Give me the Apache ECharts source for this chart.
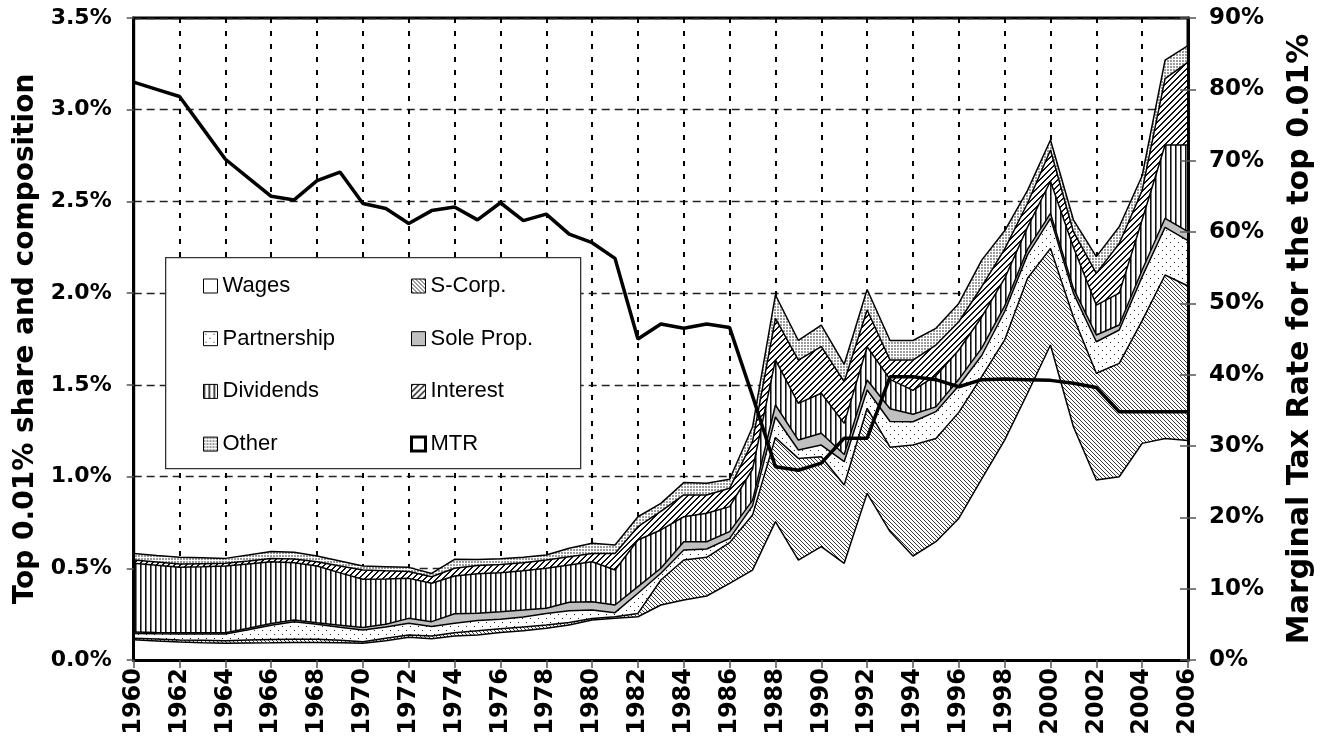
<!DOCTYPE html>
<html>
<head>
<meta charset="utf-8">
<script src="https://cdn.jsdelivr.net/npm/echarts@6/dist/echarts.min.js"></script>
<style>
html,body{margin:0;padding:0;background:#fff;}
#chart{width:1323px;height:746px;}
</style>
</head>
<body>
<div id="chart"></div>
<script>
// ---------- DATA ----------
const years = ['1960','1961','1962','1963','1964','1965','1966','1967','1968','1969',
  '1970','1971','1972','1973','1974','1975','1976','1977','1978','1979',
  '1980','1981','1982','1983','1984','1985','1986','1987','1988','1989',
  '1990','1991','1992','1993','1994','1995','1996','1997','1998','1999',
  '2000','2001','2002','2003','2004','2005','2006'];

// components of the top 0.01% income share (percent)
const wages = [0.110,0.104,0.098,0.094,0.091,0.093,0.094,0.096,0.096,0.094,
  0.091,0.105,0.124,0.116,0.131,0.136,0.150,0.160,0.173,0.191,
  0.218,0.227,0.236,0.300,0.327,0.349,0.418,0.490,0.754,0.545,
  0.618,0.527,0.909,0.700,0.567,0.645,0.772,0.987,1.199,1.454,
  1.717,1.272,0.981,0.999,1.181,1.208,1.196];
const sCorp = [0.008,0.010,0.011,0.013,0.014,0.016,0.018,0.017,0.017,0.013,
  0.009,0.013,0.012,0.015,0.018,0.024,0.020,0.020,0.018,0.014,
  0.008,0.009,0.018,0.136,0.218,0.211,0.222,0.300,0.459,0.554,
  0.490,0.427,0.463,0.460,0.605,0.563,0.578,0.558,0.546,0.627,
  0.527,0.598,0.582,0.618,0.669,0.891,0.843];
const partnership = [0.027,0.029,0.033,0.035,0.037,0.056,0.078,0.096,0.082,0.071,
  0.064,0.062,0.064,0.051,0.051,0.055,0.052,0.055,0.063,0.063,
  0.047,0.022,0.110,0.037,0.055,0.045,0.023,0.050,0.112,0.046,
  0.064,0.127,0.100,0.140,0.127,0.146,0.145,0.115,0.155,0.129,
  0.164,0.130,0.172,0.182,0.240,0.260,0.247];
const soleProp = [0.007,0.007,0.007,0.007,0.007,0.008,0.009,0.009,0.008,0.012,
  0.013,0.015,0.027,0.027,0.052,0.040,0.041,0.037,0.028,0.047,
  0.045,0.042,0.036,0.027,0.045,0.040,0.037,0.030,0.065,0.054,
  0.064,0.039,0.054,0.070,0.041,0.026,0.035,0.040,0.030,0.030,
  0.027,0.026,0.037,0.027,0.036,0.049,0.049];
const dividends = [0.376,0.366,0.357,0.359,0.363,0.351,0.337,0.312,0.309,0.285,
  0.263,0.247,0.218,0.209,0.206,0.215,0.212,0.215,0.218,0.203,
  0.218,0.191,0.254,0.209,0.136,0.155,0.136,0.170,0.246,0.200,
  0.218,0.170,0.182,0.160,0.130,0.170,0.160,0.170,0.150,0.120,
  0.175,0.224,0.163,0.174,0.274,0.400,0.473];
const interest = [0.017,0.018,0.017,0.017,0.015,0.016,0.018,0.020,0.024,0.037,
  0.051,0.044,0.037,0.036,0.042,0.045,0.045,0.043,0.045,0.045,
  0.045,0.090,0.073,0.101,0.119,0.100,0.100,0.150,0.227,0.236,
  0.254,0.227,0.200,0.105,0.165,0.167,0.154,0.165,0.160,0.130,
  0.170,0.085,0.173,0.271,0.160,0.362,0.452];
const other = [0.036,0.036,0.037,0.032,0.027,0.032,0.037,0.037,0.031,0.028,
  0.021,0.023,0.023,0.018,0.049,0.033,0.032,0.030,0.027,0.046,
  0.055,0.046,0.054,0.044,0.067,0.063,0.049,0.080,0.127,0.107,
  0.118,0.095,0.112,0.107,0.107,0.091,0.100,0.145,0.100,0.070,
  0.055,0.065,0.091,0.091,0.080,0.100,0.090];
// marginal tax rate for the top 0.01% (percent)
const mtr = [81.0,80.0,79.0,74.6,70.2,67.6,65.0,64.5,67.2,68.4,
  64.0,63.3,61.2,63.0,63.5,61.7,64.1,61.6,62.5,59.7,
  58.5,56.3,45.0,47.1,46.5,47.1,46.6,37.0,27.1,26.6,
  27.6,31.1,31.1,39.7,39.7,39.3,38.3,39.3,39.4,39.3,
  39.2,38.8,38.2,34.8,34.8,34.8,34.8];

const seriesNames = ['Wages','S-Corp.','Partnership','Sole Prop.','Dividends','Interest','Other'];
const seriesData = [wages, sCorp, partnership, soleProp, dividends, interest, other];
const leftTicks = {min:0, max:3.5, step:0.5};
const rightTicks = {min:0, max:90, step:10};

// ---------- PATTERNS ----------
function pattern(w, h, draw) {
  const c = document.createElement('canvas');
  c.width = w; c.height = h;
  const ctx = c.getContext('2d');
  ctx.fillStyle = '#fff'; ctx.fillRect(0, 0, w, h);
  draw(ctx, w, h);
  return {image: c, repeat: 'repeat'};
}
const fills = [
  '#ffffff',
  pattern(4, 4, (ctx) => { ctx.fillStyle = '#3a3a3a'; for (let i = 0; i < 4; i++) ctx.fillRect(i, i, 1, 1); }),
  pattern(8, 8, (ctx) => { ctx.fillStyle = '#222'; ctx.fillRect(2, 2, 1, 1); ctx.fillRect(6, 6, 1, 1); }),
  '#c0c0c0',
  pattern(5, 1, (ctx) => { ctx.fillStyle = '#111'; ctx.fillRect(0, 0, 1, 1); ctx.fillStyle = '#777'; ctx.fillRect(1, 0, 1, 1); }),
  pattern(6, 6, (ctx) => { ctx.fillStyle = '#111'; for (let x = 0; x < 6; x++) for (let y = 0; y < 6; y++) { const m = (x + y) % 6; if (m === 0 || m === 1) ctx.fillRect(x, y, 1, 1); } }),
  pattern(3, 3, (ctx) => { ctx.fillStyle = '#9a9a9a'; ctx.fillRect(0, 0, 2, 2); })
];

const FONT = "'Liberation Sans', Arial, sans-serif";
const TICKFONT = "'DejaVu Sans', sans-serif";

const series = seriesNames.map((n, i) => ({
  name: n, type: 'line', stack: 'share', data: seriesData[i],
  symbol: 'none', smooth: false, z: 2,
  lineStyle: {color: '#000', width: 1.5},
  itemStyle: {color: '#000'},
  areaStyle: {color: fills[i], opacity: 1},
  emphasis: {disabled: true},
  silent: true
}));
series.push({
  name: 'MTR', type: 'line', yAxisIndex: 1, data: mtr, symbol: 'none', z: 6,
  lineStyle: {color: '#000', width: 3.5}, itemStyle: {color: '#000'},
  emphasis: {disabled: true}, silent: true
});

function legendItem(n) {
  if (n === 'MTR') return {name: n, icon: 'rect', itemStyle: {color: '#fff', borderColor: '#000', borderWidth: 3}};
  const i = seriesNames.indexOf(n);
  return {name: n, icon: 'rect', itemStyle: {color: fills[i], borderColor: '#000', borderWidth: 1}};
}
const legendBase = {
  orient: 'vertical', top: 270, itemWidth: 14, itemHeight: 14, itemGap: 30.7,
  selectedMode: false, z: 20,
  textStyle: {fontSize: 22, fontFamily: FONT, color: '#000', lineHeight: 22}
};

const chart = echarts.init(document.getElementById('chart'), null, {renderer: 'canvas'});
chart.setOption({
  animation: false,
  backgroundColor: '#fff',
  grid: {left: 133.7, right: 131.3, top: 18, bottom: 86, show: true, borderColor: '#000', borderWidth: 3, backgroundColor: 'transparent'},
  legend: [
    Object.assign({}, legendBase, {left: 198, data: ['Wages','Partnership','Dividends','Other'].map(legendItem)}),
    Object.assign({}, legendBase, {left: 405, data: ['S-Corp.','Sole Prop.','Interest','MTR'].map(legendItem)})
  ],
  graphic: [{type: 'rect', left: 165, top: 257, z: 10, shape: {width: 415, height: 211}, style: {fill: '#fff', stroke: '#333', lineWidth: 1.3}}],
  xAxis: [{
    type: 'category', data: years, boundaryGap: false, z: 5,
    axisLine: {lineStyle: {color: '#000', width: 3}},
    axisTick: {show: true, interval: 1, length: 8, lineStyle: {color: '#555', width: 1.5}},
    axisLabel: {interval: 1, rotate: 90, fontSize: 24, fontWeight: 'bold', color: '#000', fontFamily: TICKFONT, margin: 8},
    splitLine: {show: false}
  }, {
    type: 'category', data: years, boundaryGap: false, position: 'top', z: 0,
    axisLine: {show: false}, axisTick: {show: false}, axisLabel: {show: false},
    splitLine: {show: true, interval: 1, lineStyle: {color: '#000', width: 2, type: [5, 8]}}
  }],
  yAxis: [{
    type: 'value', min: leftTicks.min, max: leftTicks.max, interval: leftTicks.step, position: 'left', z: 5,
    axisLine: {show: true, lineStyle: {color: '#000', width: 3}},
    axisTick: {show: true, length: 7, lineStyle: {color: '#555', width: 1.5}},
    axisLabel: {formatter: v => v.toFixed(1) + '%', fontSize: 22, fontWeight: 'bold', color: '#000', fontFamily: TICKFONT, margin: 22},
    splitLine: {show: false},
    name: 'Top 0.01% share and composition', nameLocation: 'middle', nameGap: 89,
    nameTextStyle: {fontSize: 28, fontWeight: 'bold', color: '#000', fontFamily: TICKFONT}
  }, {
    type: 'value', min: rightTicks.min, max: rightTicks.max, interval: rightTicks.step, position: 'right', z: 5,
    axisLine: {show: true, lineStyle: {color: '#000', width: 3}},
    axisTick: {show: true, length: 8, lineStyle: {color: '#555', width: 1.5}},
    axisLabel: {formatter: '{value}%', fontSize: 23, fontWeight: 'bold', color: '#000', fontFamily: TICKFONT, margin: 21},
    splitLine: {show: false},
    name: 'Marginal Tax Rate for the top 0.01%', nameLocation: 'middle', nameGap: 97,
    nameTextStyle: {fontSize: 30, fontWeight: 'bold', color: '#000', fontFamily: TICKFONT}
  }, {
    type: 'value', min: leftTicks.min, max: leftTicks.max, interval: leftTicks.step, position: 'left', z: 0,
    axisLine: {show: false}, axisTick: {show: false}, axisLabel: {show: false},
    splitLine: {show: true, lineStyle: {color: '#222', width: 1.3, type: [8, 5]}}
  }, {
    type: 'value', min: rightTicks.min, max: rightTicks.max, interval: rightTicks.step, position: 'right', z: 5,
    axisLine: {show: false}, axisLabel: {show: false}, splitLine: {show: false},
    axisTick: {show: true, inside: true, length: 8, lineStyle: {color: '#555', width: 1.5}}
  }],
  series: series
});
</script>
</body>
</html>
